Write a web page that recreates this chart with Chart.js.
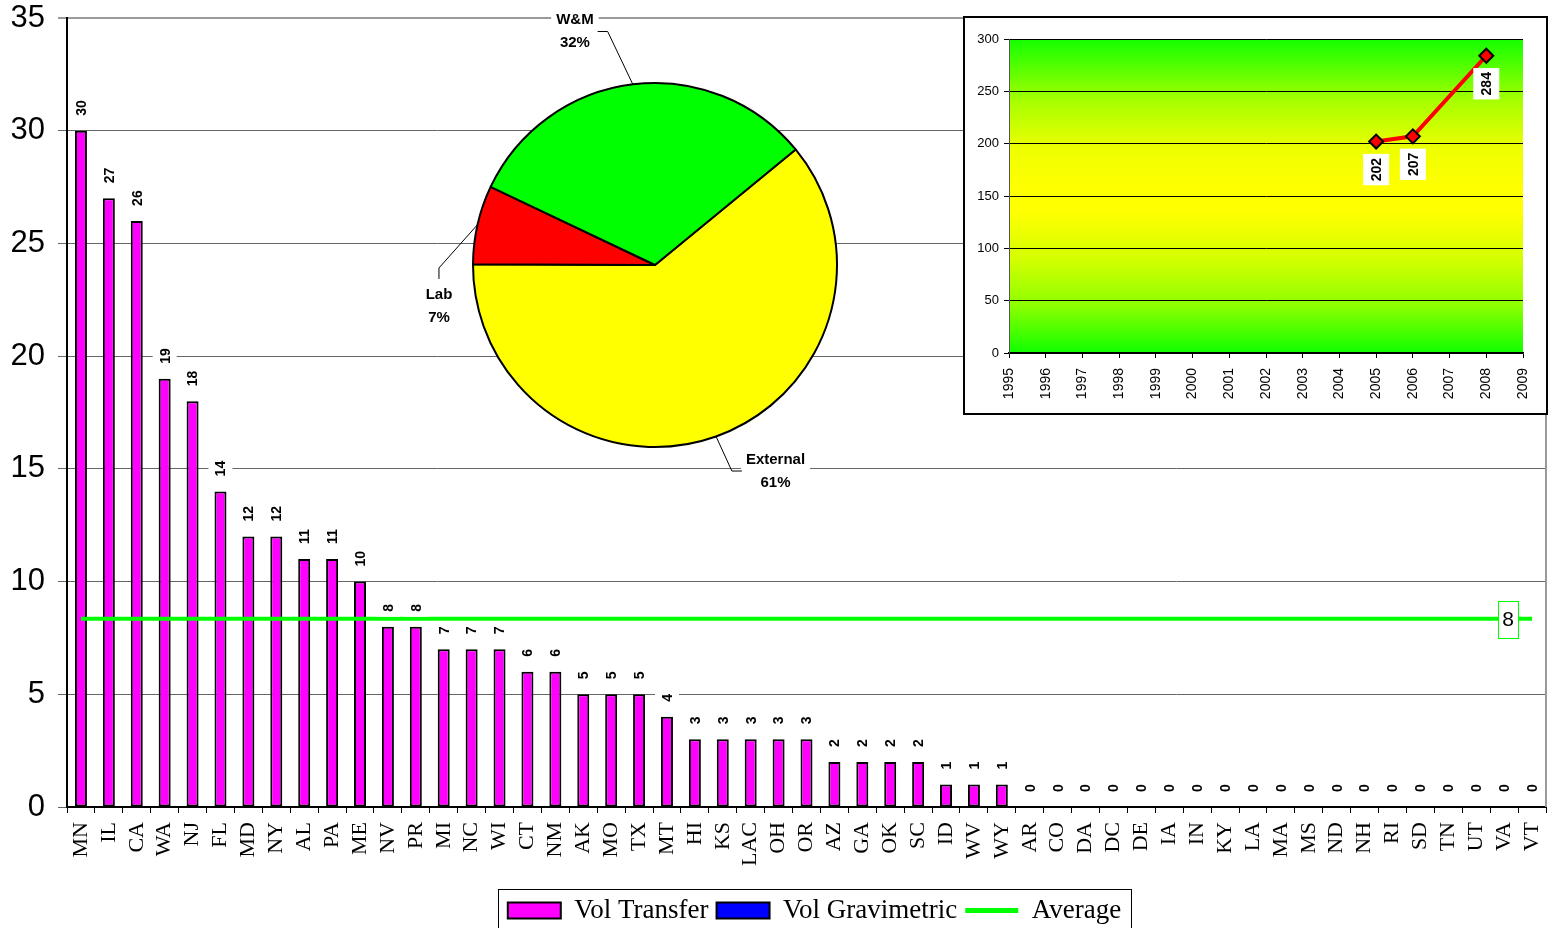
<!DOCTYPE html>
<html>
<head>
<meta charset="utf-8">
<script src="https://cdn.jsdelivr.net/npm/chart.js@4.4.1/dist/chart.umd.min.js"></script>
<style>
html,body{margin:0;padding:0;width:1556px;height:928px;overflow:hidden;background:#fff;}
#mainWrap{position:absolute;left:0;top:0;width:1556px;height:942px;}
#pieWrap{position:absolute;left:380px;top:0;width:560px;height:530px;}
#lineWrap{position:absolute;left:963px;top:16px;width:585px;height:399px;box-sizing:border-box;border:2px solid #000;background:#fff;}
canvas{display:block;}
</style>
</head>
<body>
<div id="mainWrap"><canvas id="mainChart"></canvas></div>
<div id="pieWrap"><canvas id="pieChart"></canvas></div>
<div id="lineWrap"><canvas id="lineChart"></canvas></div>
<script>
// ---------- data ----------
const states = ['MN','IL','CA','WA','NJ','FL','MD','NY','AL','PA','ME','NV','PR','MI','NC','WI','CT','NM','AK','MO','TX','MT','HI','KS','LAC','OH','OR','AZ','GA','OK','SC','ID','WV','WY','AR','CO','DA','DC','DE','IA','IN','KY','LA','MA','MS','ND','NH','RI','SD','TN','UT','VA','VT'];
const volTransfer = [30,27,26,19,18,14,12,12,11,11,10,8,8,7,7,7,6,6,5,5,5,4,3,3,3,3,3,2,2,2,2,1,1,1,0,0,0,0,0,0,0,0,0,0,0,0,0,0,0,0,0,0,0];
const volGravimetric = [0,0,0,0,0,0,0,0,0,0,0,0,0,0,0,0,0,0,0,0,0,0,0,0,0,0,0,0,0,0,0,0,0,0,0,0,0,0,0,0,0,0,0,0,0,0,0,0,0,0,0,0,0];
const averageValue = 8.35;
const mainYMin = 0, mainYMax = 35, mainYStep = 5;

const pieLabels = ['External','Lab','W&M'];
const pieShares = [61,7,32];

const trendYears = [2005,2006,2008];
const trendTotals = [202,207,284];
const trendYearMin = 1995, trendYearMax = 2009;
const trendYMin = 0, trendYMax = 300, trendYStep = 50;

// ---------- styles ----------
const SANS = '"Liberation Sans", Arial, sans-serif';
const SERIF = '"Liberation Serif", "Times New Roman", serif';
Chart.defaults.font.family = SANS;
Chart.defaults.color = '#000';
Chart.defaults.animation = false;

function noScalePad(s) { s.paddingTop = 0; s.paddingBottom = 0; s.paddingLeft = 0; s.paddingRight = 0; }

// ---------- main bar chart ----------
const barLabelPlugin = {
  id: 'barLabels',
  afterLayout(chart) {
    if (chart.legend) { chart.legend.left += 8; chart.legend.right += 8; }
  },
  beforeDatasetsDraw(chart) {
    const ctx = chart.ctx, a = chart.chartArea;
    ctx.save();
    ctx.strokeStyle = '#999';
    ctx.lineWidth = 2;
    ctx.beginPath();
    ctx.moveTo(a.right, a.top);
    ctx.lineTo(a.right, a.bottom);
    ctx.stroke();
    ctx.restore();
  },
  afterDatasetsDraw(chart) {
    const ctx = chart.ctx;
    const meta = chart.getDatasetMeta(0);
    ctx.save();
    ctx.font = 'bold 14px ' + SANS;
    meta.data.forEach((bar, i) => {
      const txt = String(volTransfer[i]);
      const w = ctx.measureText(txt).width;
      const cx = bar.x, cy = bar.y - 15 - w / 2;
      ctx.fillStyle = '#fff';
      ctx.fillRect(cx - 12, cy - w / 2 - 5, 24, w + 10);
      ctx.save();
      ctx.translate(cx, cy);
      ctx.rotate(-Math.PI / 2);
      ctx.fillStyle = '#000';
      ctx.textAlign = 'center';
      ctx.textBaseline = 'middle';
      ctx.fillText(txt, 0, 1);
      ctx.restore();
    });
    // average label
    const lm = chart.getDatasetMeta(2);
    const last = lm.data[lm.data.length - 1];
    const lx = last.x - 24, ly = last.y;
    ctx.font = '21px ' + SANS;
    ctx.fillStyle = '#fff';
    ctx.fillRect(lx - 10, ly - 18, 20, 37);
    ctx.strokeStyle = '#00FF00';
    ctx.lineWidth = 1;
    ctx.strokeRect(Math.round(lx - 10) + 0.5, Math.round(ly - 18) + 0.5, 20, 37);
    ctx.fillStyle = '#000';
    ctx.textAlign = 'center';
    ctx.textBaseline = 'middle';
    ctx.fillText(String(Math.round(averageValue)), lx, ly + 1);
    ctx.restore();
  },
  afterDraw(chart) {
    const lg = chart.legend;
    if (!lg || !lg.legendHitBoxes || !lg.legendHitBoxes.length) return;
    const hb = lg.legendHitBoxes;
    const l = Math.min(...hb.map(h => h.left)) - 10;
    const r = Math.max(...hb.map(h => h.left + h.width)) + 10;
    const ctx = chart.ctx;
    ctx.save();
    ctx.strokeStyle = '#000';
    ctx.lineWidth = 1;
    ctx.strokeRect(Math.round(l) + 0.5, Math.round(lg.top) + 0.5, Math.round(r - l), Math.round(lg.bottom - lg.top));
    ctx.restore();
  }
};

new Chart(document.getElementById('mainChart'), {
  data: {
    labels: states,
    datasets: [
      { type: 'bar', label: 'Vol Transfer', data: volTransfer, backgroundColor: '#FF00FF', borderColor: '#000', borderWidth: 2, borderSkipped: false, grouped: false, order: 1, barPercentage: 0.43, categoryPercentage: 1 },
      { type: 'bar', label: 'Vol Gravimetric', data: volGravimetric, backgroundColor: '#0000FF', borderColor: '#000', borderWidth: 0, grouped: false, order: 2, barPercentage: 0.43, categoryPercentage: 1 },
      { type: 'line', label: 'Average', data: states.map(() => averageValue), borderColor: '#00FF00', backgroundColor: '#00FF00', borderWidth: 4, pointRadius: 0, order: 0 }
    ]
  },
  options: {
    responsive: true,
    maintainAspectRatio: false,
    animation: false,
    layout: { padding: { top: 18, right: 10, bottom: 8, left: 0 } },
    plugins: {
      tooltip: { enabled: false },
      legend: {
        position: 'bottom',
        fullSize: false,
        labels: {
          font: { family: SERIF, size: 27 },
          color: '#000',
          usePointStyle: true,
          pointStyleWidth: 53,
          boxHeight: 16,
          padding: 8,
          generateLabels() {
            return [
              { text: 'Vol Transfer', fillStyle: '#FF00FF', strokeStyle: '#000', lineWidth: 2, pointStyle: 'rect', datasetIndex: 0, hidden: false, fontColor: '#000' },
              { text: 'Vol Gravimetric', fillStyle: '#0000FF', strokeStyle: '#000', lineWidth: 2, pointStyle: 'rect', datasetIndex: 1, hidden: false, fontColor: '#000' },
              { text: 'Average', fillStyle: '#00FF00', strokeStyle: '#00FF00', lineWidth: 5, pointStyle: 'line', datasetIndex: 2, hidden: false, fontColor: '#000' }
            ];
          }
        }
      }
    },
    scales: {
      x: {
        offset: true,
        grid: { display: true, drawOnChartArea: false, drawTicks: true, tickLength: 6, color: '#000', offset: true },
        border: { color: '#000', width: 2 },
        ticks: { autoSkip: false, minRotation: 90, maxRotation: 90, padding: 9, font: { family: SERIF, size: 22 }, color: '#000' },
        afterFit(s) { s.height = 82; noScalePad(s); }
      },
      y: {
        min: mainYMin, max: mainYMax,
        grid: {
          color: c => (c.tick && c.tick.value === mainYMax) ? '#9a9a9a' : '#666',
          lineWidth: c => (c.tick && c.tick.value === mainYMax) ? 2 : 1,
          tickLength: 9, drawTicks: true
        },
        border: { color: '#000', width: 2 },
        ticks: { stepSize: mainYStep, padding: 13, font: { family: SANS, size: 31 }, color: '#000' },
        afterFit(s) { s.width = 67; noScalePad(s); }
      }
    }
  },
  plugins: [barLabelPlugin]
});

// ---------- pie inset ----------
const piePlacement = [
  { dx: 0.662, dy: 1.132, side: 'left' },
  { dx: -1.187, dy: 0.225, side: 'top' },
  { dx: -0.44, dy: -1.283, side: 'right' }
];
const pieLabelPlugin = {
  id: 'pieLabels',
  afterDatasetsDraw(chart) {
    const ctx = chart.ctx;
    const meta = chart.getDatasetMeta(0);
    const total = pieShares.reduce((a, b) => a + b, 0);
    const lh = 23;
    ctx.save();
    ctx.font = 'bold 15px ' + SANS;
    meta.data.forEach((arc, i) => {
      const p = arc.getProps(['x', 'y', 'startAngle', 'endAngle', 'outerRadius'], true);
      const mid = (p.startAngle + p.endAngle) / 2;
      const ex = p.x + Math.cos(mid) * p.outerRadius;
      const ey = p.y + Math.sin(mid) * p.outerRadius;
      const pl = piePlacement[i];
      const lx = p.x + pl.dx * p.outerRadius;
      const ly = p.y + pl.dy * p.outerRadius;
      const l1 = pieLabels[i];
      const l2 = Math.round(pieShares[i] / total * 100) + '%';
      const w = Math.max(ctx.measureText(l1).width, ctx.measureText(l2).width);
      ctx.fillStyle = '#fff';
      ctx.fillRect(lx - w / 2 - 5, ly - lh - 2, w + 10, lh * 2 + 4);
      let ax, ay, bx, by;
      if (pl.side === 'right') { ax = lx + w / 2 + 4; ay = ly; bx = ax + 10; by = ay; }
      else if (pl.side === 'left') { ax = lx - w / 2 - 4; ay = ly; bx = ax - 10; by = ay; }
      else { ax = lx; ay = ly - lh - 4; bx = ax; by = ay - 11; }
      ctx.strokeStyle = '#000';
      ctx.lineWidth = 1;
      ctx.beginPath();
      ctx.moveTo(ex, ey);
      ctx.lineTo(bx, by);
      ctx.lineTo(ax, ay);
      ctx.stroke();
      ctx.fillStyle = '#000';
      ctx.textAlign = 'center';
      ctx.textBaseline = 'middle';
      ctx.fillText(l1, lx, ly - lh / 2);
      ctx.fillText(l2, lx, ly + lh / 2);
    });
    ctx.restore();
  }
};

new Chart(document.getElementById('pieChart'), {
  type: 'pie',
  data: {
    labels: pieLabels,
    datasets: [{ data: pieShares, backgroundColor: ['#FFFF00', '#FF0000', '#00FF00'], borderColor: '#000', borderWidth: 2 }]
  },
  options: {
    responsive: true,
    maintainAspectRatio: false,
    animation: false,
    rotation: 50.6,
    layout: { padding: { left: 92, right: 102, top: 82, bottom: 82 } },
    plugins: { legend: { display: false }, tooltip: { enabled: false } }
  },
  plugins: [pieLabelPlugin]
});

// ---------- line inset ----------
const trendPlugin = {
  id: 'trendDeco',
  beforeDraw(chart) {
    const ctx = chart.ctx, a = chart.chartArea;
    const g = ctx.createLinearGradient(0, a.top, 0, a.bottom);
    g.addColorStop(0, '#14ff00');
    g.addColorStop(0.1, '#5cff00');
    g.addColorStop(0.2, '#a8ff00');
    g.addColorStop(0.35, '#eeff00');
    g.addColorStop(0.47, '#ffff00');
    g.addColorStop(0.55, '#ffff00');
    g.addColorStop(0.7, '#d4ff00');
    g.addColorStop(0.85, '#8cff00');
    g.addColorStop(1, '#10ff00');
    ctx.save();
    ctx.fillStyle = g;
    ctx.fillRect(a.left, a.top, a.right - a.left, a.bottom - a.top);
    ctx.restore();
  },
  afterDatasetsDraw(chart) {
    const ctx = chart.ctx;
    const meta = chart.getDatasetMeta(0);
    ctx.save();
    ctx.font = 'bold 14px ' + SANS;
    meta.data.forEach((pt, i) => {
      const txt = String(trendTotals[i]);
      const w = ctx.measureText(txt).width;
      const cx = pt.x, cy = pt.y + 28;
      ctx.fillStyle = '#fff';
      ctx.fillRect(cx - 13, cy - w / 2 - 4, 26, w + 8);
      ctx.save();
      ctx.translate(cx, cy);
      ctx.rotate(-Math.PI / 2);
      ctx.fillStyle = '#000';
      ctx.textAlign = 'center';
      ctx.textBaseline = 'middle';
      ctx.fillText(txt, 0, 1);
      ctx.restore();
    });
    ctx.restore();
  }
};

new Chart(document.getElementById('lineChart'), {
  type: 'line',
  data: {
    datasets: [{
      label: 'Total',
      data: trendYears.map((yr, i) => ({ x: yr, y: trendTotals[i] })),
      borderColor: '#FF0000',
      borderWidth: 4,
      pointStyle: 'rectRot',
      pointRadius: 7,
      pointBackgroundColor: '#FF0000',
      pointBorderColor: '#000',
      pointBorderWidth: 2
    }]
  },
  options: {
    responsive: true,
    maintainAspectRatio: false,
    animation: false,
    layout: { padding: { top: 21, right: 23, left: 0, bottom: 0 } },
    plugins: { legend: { display: false }, tooltip: { enabled: false } },
    scales: {
      x: {
        type: 'linear',
        min: trendYearMin, max: trendYearMax,
        grid: { drawOnChartArea: false, drawTicks: true, tickLength: 5, color: '#000' },
        border: { color: '#000', width: 1.5 },
        ticks: { stepSize: 1, minRotation: 90, maxRotation: 90, padding: 10, font: { family: SANS, size: 14 }, color: '#000', callback: v => String(v) },
        afterFit(s) { s.height = 60; noScalePad(s); }
      },
      y: {
        min: trendYMin, max: trendYMax,
        grid: { color: '#000', lineWidth: 1, tickLength: 5, drawTicks: true },
        border: { color: '#555', width: 1 },
        ticks: { stepSize: trendYStep, padding: 5, font: { family: SANS, size: 13 }, color: '#000' },
        afterFit(s) { s.width = 44; noScalePad(s); }
      }
    }
  },
  plugins: [trendPlugin]
});
</script>
</body>
</html>
